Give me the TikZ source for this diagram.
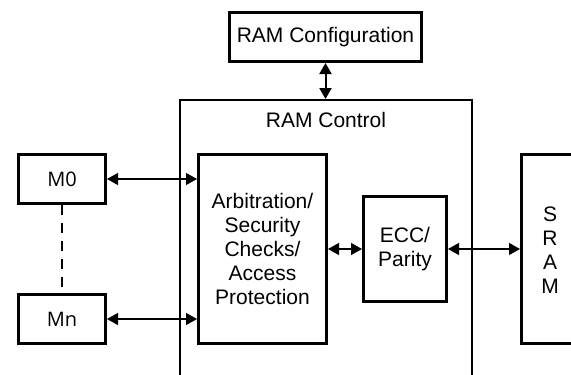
\documentclass[tikz,border=0pt]{standalone}
\usepackage{fontspec}
\setmainfont{Liberation Sans}
\newfontfamily\mfont{Open Sans}
\usetikzlibrary{arrows.meta}
\begin{document}
\begin{tikzpicture}[x=1pt,y=-1pt,
  box/.style={draw, line width=3pt, inner sep=0pt, align=center,
    font=\fontsize{21}{24}\selectfont},
  mbox/.style={box, font=\mfont\fontsize{20}{24}\selectfont,
    minimum width=87pt, minimum height=49pt},
  txt/.style={inner sep=0pt, align=center, font=\fontsize{21}{24}\selectfont},
  conn/.style={line width=1.2pt, {Triangle[length=11pt,width=12pt]}-{Triangle[length=11pt,width=12pt]}},
  vconn/.style={line width=2pt, {Triangle[length=11pt,width=12pt]}-{Triangle[length=11pt,width=12pt]}},
]
\useasboundingbox (0,0) rectangle (571,375);
\clip (0,0) rectangle (571,375);
\fill[white] (0,0) rectangle (571,375);

% RAM Control outer region
\node[draw, line width=2pt, minimum width=292pt, minimum height=300pt, inner sep=0pt] (ctrl) at (326,250) {};
\node[txt] (ctrltxt) at (326,120) {RAM Control};

\node[box, minimum width=192pt, minimum height=49pt] (cfg) at (325.5,37) {RAM Configuration};

\node[mbox] (m0) at (62,179) {M0};
\node[mbox] (mn) at (62,319) {Mn};

\node[box, minimum width=128pt, minimum height=189pt] (arb) at (262.5,249)
  {Arbitration/\\Security\\Checks/\\Access\\Protection};
\node[box, minimum width=83pt, minimum height=105pt] (ecc) at (405,249) {ECC/\\Parity};
\node[box, minimum width=100pt, minimum height=189pt] (sram) at (571.5,249) {};
\node[txt] (sramtxt) at (550,250) {S\\R\\A\\M};

\draw[vconn] (cfg.south) -- (cfg.south |- ctrl.north);
\draw[conn] (m0.east) -- (m0.east -| arb.west);
\draw[conn] (mn.east) -- (mn.east -| arb.west);
\draw[conn] (arb.east |- ecc.west) -- (ecc.west);
\draw[conn] (ecc.east) -- (ecc.east -| sram.west);
\draw[line width=1.5pt, dash pattern=on 10pt off 8pt] (m0.south) -- (mn.north);
\end{tikzpicture}
\end{document}
